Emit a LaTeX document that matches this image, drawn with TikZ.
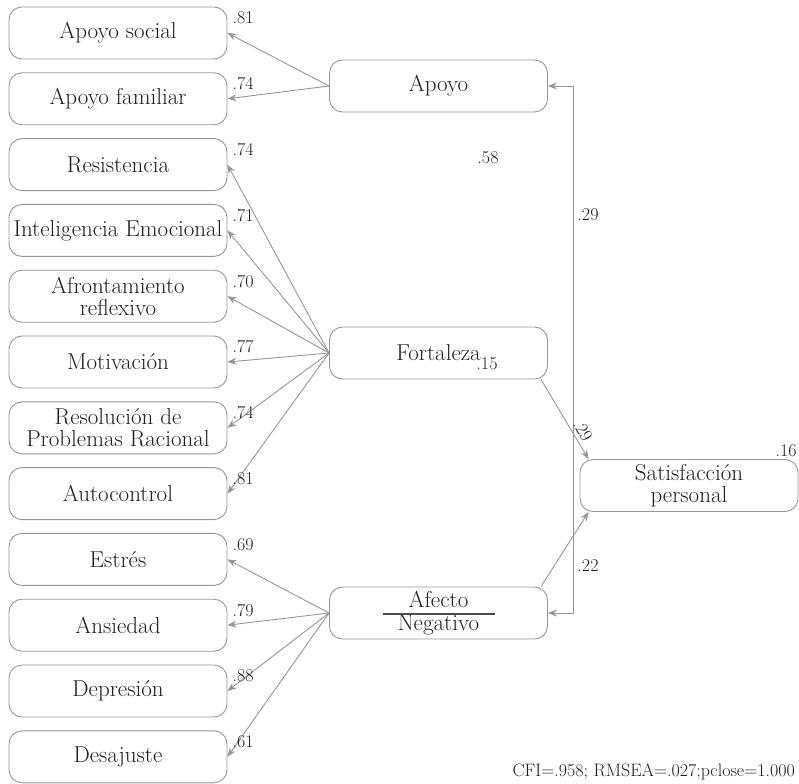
\documentclass[tikz,border=0pt]{standalone}
\usetikzlibrary{arrows.meta}
\definecolor{lg}{RGB}{150,150,150}
\definecolor{tx}{RGB}{30,30,30}
\begin{document}
\begin{tikzpicture}[x=1pt,y=-1pt,
 box/.style={draw=lg, line width=0.9pt, rounded corners=13pt, minimum width=218pt, minimum height=52pt, inner sep=1pt, align=center, text=tx, font=\fontsize{23}{22}\selectfont},
 lab/.style={text=tx, font=\fontsize{18}{18}\selectfont, inner sep=0pt},
 arr/.style={draw=lg, line width=0.9pt, -{Stealth[length=9pt,width=7pt]}},
 darr/.style={draw=lg, line width=0.9pt, {Stealth[length=9pt,width=7pt]}-{Stealth[length=9pt,width=7pt]}},
]
\useasboundingbox (0,0) rectangle (799,783);
% indicators
\node[box] (l1) at (118,33) {Apoyo social};
\node[box] (l2) at (118,98.8) {Apoyo familiar};
\node[box] (l3) at (118,164.6) {Resistencia};
\node[box] (l4) at (118,230.4) {Inteligencia Emocional};
\node[box] (l5) at (118,296.2) {Afrontamiento\\reflexivo};
\node[box] (l6) at (118,362) {Motivaci\'on};
\node[box] (l7) at (118,427.8) {Resoluci\'on de\\Problemas Racional};
\node[box] (l8) at (118,493.6) {Autocontrol};
\node[box] (l9) at (118,559.4) {Estr\'es};
\node[box] (l10) at (118,625.2) {Ansiedad};
\node[box] (l11) at (118,691) {Depresi\'on};
\node[box] (l12) at (118,756.8) {Desajuste};
% latent
\node[box] (ap) at (438.5,86) {Apoyo};
\node[box] (fo) at (438.5,353) {Fortaleza};
\node[box] (an) at (438.5,613) {Afecto\\[1pt]Negativo};
\node[box] (sa) at (689,485.5) {Satisfacci\'on\\personal};
\draw[draw=tx!80, line width=1.4pt] ([xshift=-56pt,yshift=-1pt]an.center) -- ([xshift=56pt,yshift=-1pt]an.center);
% loadings
\foreach \i in {1,2}{\draw[arr] (ap.west) -- (l\i.east);}
\foreach \i in {3,...,8}{\draw[arr] (fo.west) -- (l\i.east);}
\foreach \i in {9,...,12}{\draw[arr] (an.west) -- (l\i.east);}
% labels
\foreach \i/\v in {1/.81,2/.74,3/.74,4/.71,5/.70,6/.77,7/.74,8/.81,9/.69,10/.79,11/.88,12/.61}{
  \node[lab, anchor=west] (v\i) at ([xshift=5pt,yshift=15pt]l\i.east) {\v};
}
% structural
\draw[arr] ([xshift=-7pt]fo.south east) -- ([xshift=9pt]sa.north west);
\draw[arr] ([xshift=-7pt]an.north east) -- ([xshift=9pt]sa.south west);
\draw[darr] (ap.east) -- ++(25,0) |- (an.east);
\node[lab] (c1) at (588,215) {.29};
\node[lab] (c2) at (588,566) {.22};
\node[lab] (c3) at (488,158) {.58};
\node[lab] (c4) at (487,364) {.15};
\node[lab] (c5) at (786,451) {.16};
\node[lab, rotate=-60] (c6) at (583,431) {.29};
\node[lab, anchor=east] (fit) at (795,772) {CFI=.958; RMSEA=.027;pclose=1.000};
\end{tikzpicture}
\end{document}
